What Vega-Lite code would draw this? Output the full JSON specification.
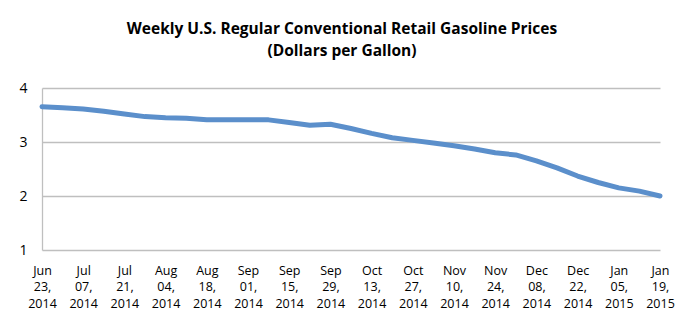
{
  "$schema": "https://vega.github.io/schema/vega-lite/v6.json",
  "width": 618,
  "height": 162,
  "autosize": {"type": "none"},
  "padding": {"left": 42, "top": 88, "right": 15, "bottom": 72},
  "background": "white",
  "config": {"view": {"stroke": null}, "font": "Open Sans"},
  "title": {
    "text": ["Weekly U.S. Regular Conventional Retail Gasoline Prices", "(Dollars per Gallon)"],
    "font": "Open Sans",
    "fontSize": 15.5,
    "fontWeight": "bold",
    "color": "#000000",
    "lineHeight": 22,
    "anchor": "middle",
    "dx": -9,
    "offset": 22
  },
  "data": {
    "values": [
      {"week": "Jun 23, 2014", "price": 3.653},
      {"week": "Jun 30, 2014", "price": 3.635},
      {"week": "Jul 07, 2014", "price": 3.61},
      {"week": "Jul 14, 2014", "price": 3.57},
      {"week": "Jul 21, 2014", "price": 3.52},
      {"week": "Jul 28, 2014", "price": 3.47},
      {"week": "Aug 04, 2014", "price": 3.45},
      {"week": "Aug 11, 2014", "price": 3.44},
      {"week": "Aug 18, 2014", "price": 3.41},
      {"week": "Aug 25, 2014", "price": 3.41},
      {"week": "Sep 01, 2014", "price": 3.41},
      {"week": "Sep 08, 2014", "price": 3.41},
      {"week": "Sep 15, 2014", "price": 3.36},
      {"week": "Sep 22, 2014", "price": 3.31},
      {"week": "Sep 29, 2014", "price": 3.33},
      {"week": "Oct 06, 2014", "price": 3.25},
      {"week": "Oct 13, 2014", "price": 3.16},
      {"week": "Oct 20, 2014", "price": 3.08},
      {"week": "Oct 27, 2014", "price": 3.03},
      {"week": "Nov 03, 2014", "price": 2.98},
      {"week": "Nov 10, 2014", "price": 2.93},
      {"week": "Nov 17, 2014", "price": 2.87},
      {"week": "Nov 24, 2014", "price": 2.80},
      {"week": "Dec 01, 2014", "price": 2.76},
      {"week": "Dec 08, 2014", "price": 2.65},
      {"week": "Dec 15, 2014", "price": 2.52},
      {"week": "Dec 22, 2014", "price": 2.37},
      {"week": "Dec 29, 2014", "price": 2.25},
      {"week": "Jan 05, 2015", "price": 2.15},
      {"week": "Jan 12, 2015", "price": 2.09},
      {"week": "Jan 19, 2015", "price": 2.00}
    ]
  },
  "mark": {"type": "line", "color": "#5b8fcb", "strokeWidth": 5, "strokeCap": "round", "strokeJoin": "round"},
  "encoding": {
    "x": {
      "field": "week",
      "type": "ordinal",
      "sort": null,
      "scale": {"type": "point", "padding": 0},
      "axis": {
        "title": null,
        "values": ["Jun 23, 2014", "Jul 07, 2014", "Jul 21, 2014", "Aug 04, 2014", "Aug 18, 2014", "Sep 01, 2014", "Sep 15, 2014", "Sep 29, 2014", "Oct 13, 2014", "Oct 27, 2014", "Nov 10, 2014", "Nov 24, 2014", "Dec 08, 2014", "Dec 22, 2014", "Jan 05, 2015", "Jan 19, 2015"],
        "labelExpr": "split(datum.value, ' ')",
        "labelAngle": 0,
        "labelAlign": "center",
        "labelBaseline": "top",
        "labelFont": "Open Sans",
        "labelFontSize": 12.5,
        "labelLineHeight": 16.5,
        "labelColor": "#000000",
        "labelPadding": 14,
        "labelOverlap": false,
        "labelFlush": false,
        "ticks": false,
        "domain": false,
        "grid": false
      }
    },
    "y": {
      "field": "price",
      "type": "quantitative",
      "scale": {"domain": [1, 4], "nice": false, "zero": false},
      "axis": {
        "title": null,
        "values": [1, 2, 3, 4],
        "format": "d",
        "labelFont": "Open Sans",
        "labelFontSize": 14,
        "labelColor": "#000000",
        "labelPadding": 15,
        "ticks": false,
        "domain": true,
        "domainColor": "#bfbfbf",
        "domainWidth": 1.3,
        "grid": true,
        "gridColor": "#bfbfbf",
        "gridWidth": 1.3
      }
    }
  }
}
